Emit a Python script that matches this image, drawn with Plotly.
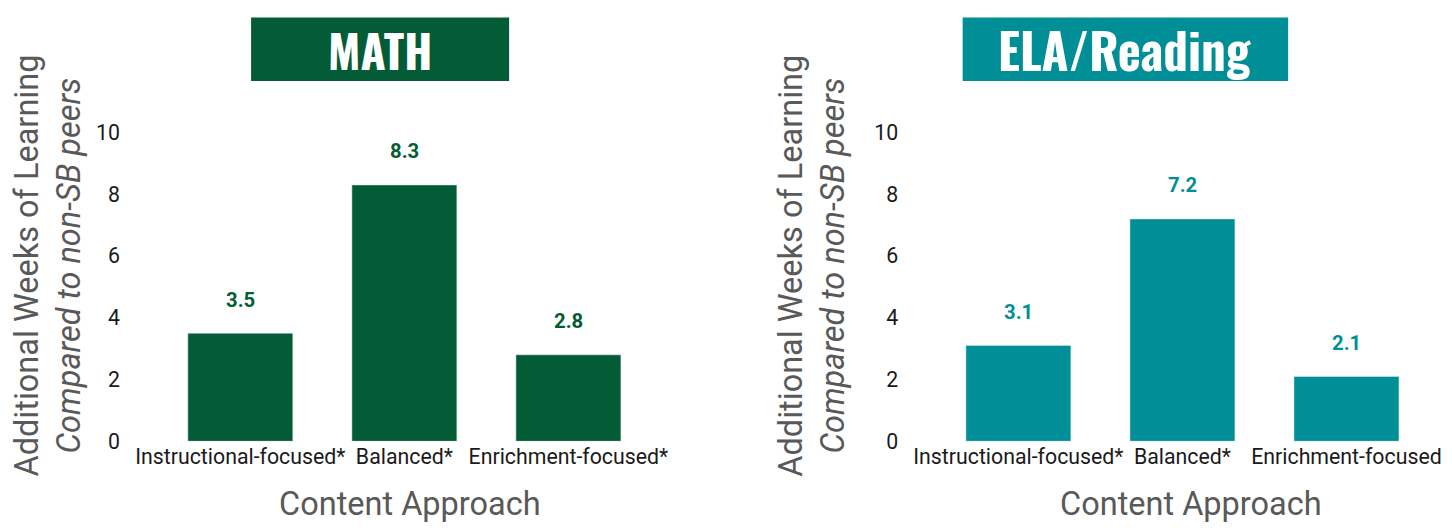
import plotly.graph_objects as go

# ---- data ----
math_categories = ["Instructional-focused*", "Balanced*", "Enrichment-focused*"]
math_values = [3.5, 8.3, 2.8]
ela_categories = ["Instructional-focused*", "Balanced*", "Enrichment-focused"]
ela_values = [3.1, 7.2, 2.1]
y_ticks = [0, 2, 4, 6, 8, 10]
panel_titles = ["MATH", "ELA/Reading"]
x_title = "Content Approach"
y_title_main = "Additional Weeks of Learning"
y_title_sub = "Compared to non-SB peers"

GREEN = "#045C36"
TEAL = "#008F97"

# reference layout measured in a 1452 x 531 picture; positions are kept as
# paper fractions so the figure can fill whatever viewport it is shown in
FW, FH = 1452, 531


def px(x):
    return x / FW


def py(y):
    return (FH - y) / FH


fig = go.Figure()
fig.add_trace(go.Bar(x=math_categories, y=math_values, marker_color=GREEN,
                     xaxis="x", yaxis="y", showlegend=False, hoverinfo="skip"))
fig.add_trace(go.Bar(x=ela_categories, y=ela_values, marker_color=TEAL,
                     xaxis="x2", yaxis="y2", showlegend=False, hoverinfo="skip"))

ydom = [py(451.5), py(103.9)]
axis_font = dict(family="Roboto", size=21.3, color="#1a1a1a")
common_x = dict(range=[-0.727, 2.54], showgrid=False, showline=False,
                zeroline=False, ticks="", tickfont=axis_font, fixedrange=True)
common_y = dict(range=[0, 11], tickvals=y_ticks, showgrid=False, showline=False,
                zeroline=False, ticks="", tickfont=axis_font, fixedrange=True)

fig.update_layout(
    width=FW, height=FH,
    margin=dict(l=0, r=0, t=0, b=0),
    paper_bgcolor="white", plot_bgcolor="white",
    bargap=0.36,
    font=dict(family="Roboto"),
    xaxis=dict(domain=[px(122), px(662)], anchor="y", **common_x),
    yaxis=dict(domain=ydom, anchor="x", **common_y),
    xaxis2=dict(domain=[px(906), px(1446)], anchor="y2", **common_x),
    yaxis2=dict(domain=ydom, anchor="x2", **common_y),
)

# value labels
for xa, ya, cats, vals, col in [("x", "y", math_categories, math_values, GREEN),
                                ("x2", "y2", ela_categories, ela_values, TEAL)]:
    for c, v in zip(cats, vals):
        fig.add_annotation(x=c, y=v, xref=xa, yref=ya, text=f"<b>{v:.1f}</b>",
                           showarrow=False, yshift=33.5, xanchor="center",
                           yanchor="middle",
                           font=dict(family="Roboto", size=20.3, color=col))

# title boxes
for (x0, x1), title, col, fs in [((253, 513), panel_titles[0], GREEN, 46),
                                 ((970, 1298), panel_titles[1], TEAL, 49)]:
    fig.add_shape(type="rect", xref="paper", yref="paper",
                  x0=px(x0), x1=px(x1), y0=py(83), y1=py(18),
                  fillcolor=col, line_width=0, layer="below")
    fig.add_annotation(xref="paper", yref="paper", x=px((x0 + x1) / 2),
                       y=py(50.5), text=f"<b>{title}</b>", showarrow=False,
                       xanchor="center", yanchor="middle",
                       font=dict(family="Oswald, DejaVu Sans Condensed",
                                 size=fs, color="white"))

# axis titles
for cx, ycx in [(413, 48), (1200, 818)]:
    fig.add_annotation(xref="paper", yref="paper", x=px(cx), y=py(516),
                       text=x_title, showarrow=False, xanchor="center",
                       yanchor="middle",
                       font=dict(family="Roboto", size=32.5, color="#595959"))
    fig.add_annotation(xref="paper", yref="paper", x=px(ycx), y=py(272),
                       text=f"{y_title_main}<br><i>{y_title_sub}</i>",
                       showarrow=False, textangle=-90, xanchor="center",
                       yanchor="middle",
                       font=dict(family="Roboto", size=32.5, color="#595959"))

fig.write_html(
    "out.html",
    config={"displayModeBar": False},
    post_script=(
        "var gd=document.getElementById('{plot_id}');"
        "var r=document.documentElement, b=document.body;"
        "r.style.margin='0';r.style.padding='0';r.style.overflow='hidden';"
        "b.style.margin='0';b.style.padding='0';b.style.overflow='hidden';"
        "gd.style.position='fixed';gd.style.left='0px';gd.style.top='0px';"
        "var w=window.innerWidth||1452, h=window.innerHeight||531;"
        "gd.style.width=w+'px';gd.style.height=h+'px';"
        "Plotly.relayout(gd,{width:w,height:h});"
    ),
)
